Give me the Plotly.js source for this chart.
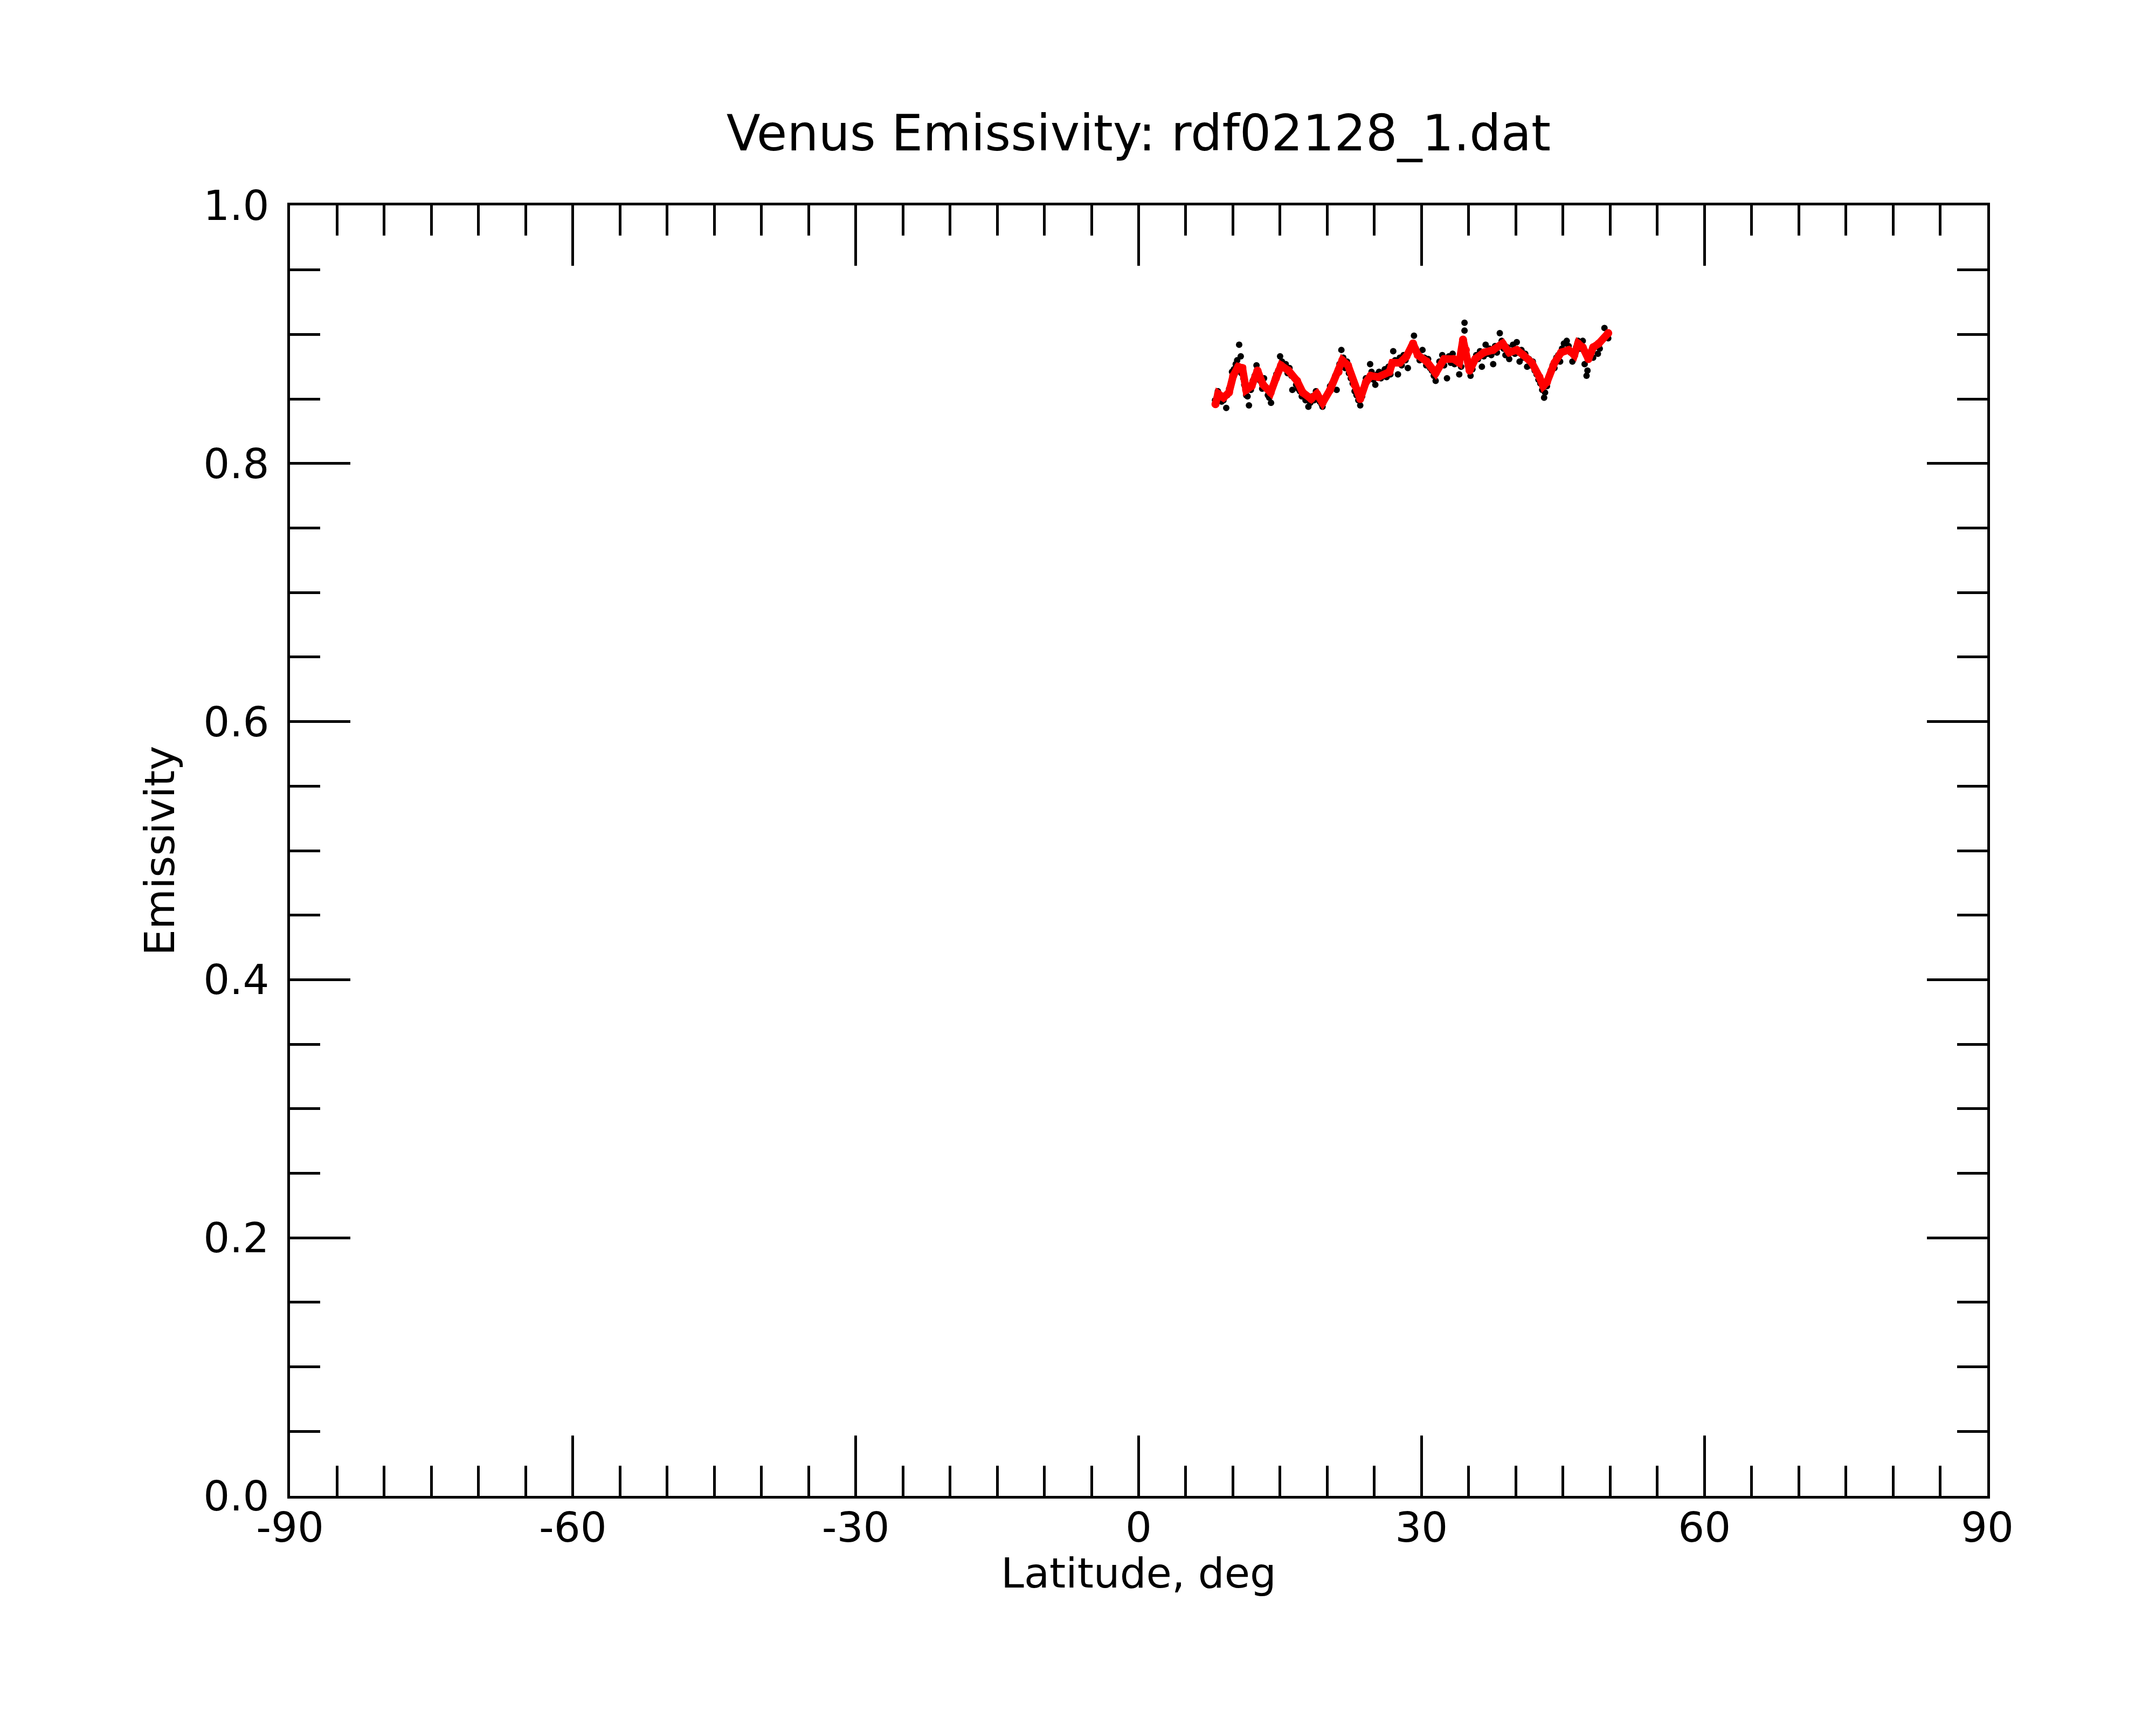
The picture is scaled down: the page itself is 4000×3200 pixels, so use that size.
<!DOCTYPE html>
<html>
<head>
<meta charset="utf-8">
<script src="https://cdn.plot.ly/plotly-3.0.1.min.js"></script>
<style>
  body { margin: 0; background: #fff; }
  #chart { width: 4000px; height: 3200px; }
</style>
</head>
<body>
<div id="chart"></div>
<script>
// raw emissivity samples (black dots)
const rawLat = [
  8.1, 8.3, 8.4, 8.6, 8.8, 9.0, 9.29, 9.4, 9.6, 9.8, 9.9, 10.1, 10.3, 10.45, 10.66, 10.83, 10.9, 11.1,
  11.2, 11.4, 11.55, 11.7, 11.9, 12.1, 12.3, 12.5, 12.7, 12.9, 13.1, 13.3, 13.5, 13.7, 13.85, 14.04, 14.2,
  14.4, 14.6, 14.8, 15.0, 15.2, 15.4, 15.6, 15.8, 16.0, 16.2, 16.3, 16.5, 16.7, 16.9, 17.1, 17.3, 17.5, 17.7, 17.85, 18.0, 18.2,
  18.4, 18.6, 18.8, 19.0, 19.2, 19.4, 19.5, 19.7, 19.9, 20.1, 20.3, 20.5, 20.7, 20.85, 21.0, 21.15, 21.3, 21.5, 21.7,
  21.9, 22.1, 22.3, 22.5, 22.7, 22.9, 23.1, 23.3, 23.5, 23.7, 23.9, 24.1, 24.3, 24.55, 24.7, 24.9, 25.1, 25.3, 25.5, 25.7,
  25.9, 26.1, 26.3, 26.5, 26.7, 27.0, 27.2, 27.5, 27.7, 27.9, 28.1, 28.3, 28.55, 28.7, 28.9, 29.2, 29.4, 29.6, 29.8, 30.1,
  30.3, 30.5, 30.7, 30.9, 31.1, 31.3, 31.5, 31.7, 31.9, 32.2, 32.4, 32.7, 32.9, 33.1, 33.3, 33.5, 33.7, 34.0, 34.2, 34.4, 34.56, 34.56, 34.7,
  34.9, 35.2, 35.4, 35.6, 35.8, 36.0, 36.2, 36.4, 36.6, 36.8, 37.0, 37.2, 37.4, 37.6, 37.8, 38.0, 38.3, 38.5, 38.7, 38.9, 39.1, 39.3, 39.5, 39.7, 39.9, 40.1,
  40.3, 40.4, 40.6, 40.8, 41.0, 41.2, 41.4, 41.6, 41.8, 42.0, 42.2, 42.4, 42.6, 42.8, 43.0, 43.1, 43.3, 43.5, 43.7, 43.9,
  44.1, 44.3, 44.5, 44.7, 44.9, 45.1, 45.4, 45.6, 45.8, 46.0, 46.2, 46.4, 46.6, 46.8, 47.1, 47.3, 47.5, 47.6, 47.8, 48.0, 48.2, 48.4, 48.7, 48.9, 49.1, 49.4, 49.6, 49.8
];
const rawEmis = [
  0.849, 0.852, 0.856, 0.853, 0.848, 0.849, 0.843, 0.853, 0.858, 0.862, 0.871, 0.873, 0.877, 0.880, 0.892, 0.883, 0.870, 0.866,
  0.861, 0.853, 0.852, 0.845, 0.857, 0.864, 0.868, 0.876, 0.869, 0.864, 0.858, 0.866, 0.859, 0.853, 0.851, 0.847, 0.860,
  0.864, 0.869, 0.872, 0.883, 0.879, 0.874, 0.877, 0.870, 0.874, 0.868, 0.857, 0.866, 0.861, 0.858, 0.856, 0.852, 0.853, 0.849, 0.851, 0.844, 0.847,
  0.852, 0.849, 0.856, 0.851, 0.848, 0.846, 0.844, 0.849, 0.852, 0.855, 0.860, 0.862, 0.865, 0.868, 0.857, 0.873, 0.877, 0.888, 0.882,
  0.874, 0.879, 0.870, 0.866, 0.862, 0.856, 0.853, 0.849, 0.845, 0.852, 0.858, 0.866, 0.864, 0.877, 0.871, 0.865, 0.861, 0.869, 0.871, 0.866,
  0.870, 0.873, 0.867, 0.875, 0.869, 0.887, 0.880, 0.869, 0.882, 0.876, 0.884, 0.880, 0.874, 0.887, 0.891, 0.899, 0.889, 0.886, 0.880, 0.888,
  0.882, 0.876, 0.881, 0.874, 0.872, 0.868, 0.864, 0.873, 0.879, 0.884, 0.876, 0.866, 0.883, 0.878, 0.885, 0.877, 0.880, 0.869, 0.875, 0.892, 0.909, 0.903, 0.884,
  0.876, 0.868, 0.873, 0.879, 0.884, 0.881, 0.887, 0.875, 0.883, 0.892, 0.885, 0.889, 0.884, 0.877, 0.891, 0.886, 0.901, 0.895, 0.889, 0.884, 0.890, 0.881, 0.887, 0.892, 0.885, 0.894,
  0.886, 0.879, 0.888, 0.882, 0.885, 0.875, 0.881, 0.876, 0.879, 0.872, 0.869, 0.865, 0.862, 0.857, 0.851, 0.855, 0.860, 0.867, 0.872, 0.876,
  0.874, 0.882, 0.884, 0.879, 0.889, 0.893, 0.895, 0.891, 0.886, 0.879, 0.887, 0.890, 0.895, 0.889, 0.895, 0.877, 0.868, 0.872, 0.884, 0.887, 0.882, 0.891, 0.885, 0.889, 0.895, 0.905, 0.899, 0.897
];

// smoothed emissivity (red)
const smoothLat = [
  8.15, 8.43, 9.0, 9.58, 10.03, 10.55, 11.0, 11.4, 11.98, 12.6, 13.2, 14.0, 14.55, 15.1, 15.9, 16.8, 17.4,
  18.3, 18.9, 19.5, 20.3, 21.2, 21.6, 22.2, 22.9, 23.5, 24.1, 24.6, 25.4, 26.6, 26.9, 27.7, 28.4, 29.1, 29.6,
  30.55, 31.5, 32.4, 33.4, 34.0, 34.4, 34.7, 35.1, 35.7, 36.6, 37.6, 38.6, 39.3, 40.1, 40.8, 41.7, 42.5, 42.9,
  43.3, 44.1, 44.8, 45.6, 46.2, 46.6, 47.1, 47.7, 48.2, 48.8, 49.8
];
const smoothEmis = [
  0.846, 0.854, 0.851, 0.855, 0.868, 0.875, 0.874, 0.857, 0.860, 0.872, 0.861, 0.855, 0.866, 0.876, 0.872, 0.864, 0.855,
  0.850, 0.854, 0.847, 0.857, 0.871, 0.880, 0.876, 0.861, 0.850, 0.863, 0.868, 0.867, 0.871, 0.878, 0.878, 0.883, 0.893, 0.884,
  0.879, 0.870, 0.881, 0.881, 0.878, 0.896, 0.888, 0.872, 0.881, 0.886, 0.888, 0.893, 0.886, 0.888, 0.884, 0.878, 0.867, 0.860,
  0.863, 0.878, 0.886, 0.888, 0.884, 0.893, 0.890, 0.881, 0.890, 0.893, 0.901
];

const xTicks = [-90, -60, -30, 0, 30, 60, 90];
const yTicks = [0.0, 0.2, 0.4, 0.6, 0.8, 1.0];

const data = [
  {
    x: rawLat, y: rawEmis,
    type: 'scatter', mode: 'markers',
    marker: { color: '#000', size: 12 },
    hoverinfo: 'skip'
  },
  {
    x: smoothLat, y: smoothEmis,
    type: 'scatter', mode: 'lines+markers',
    line: { color: '#ff0000', width: 14 },
    marker: { color: '#ff0000', size: 15 },
    hoverinfo: 'skip'
  }
];

const axisCommon = {
  showgrid: false,
  zeroline: false,
  showline: true,
  linecolor: '#000',
  linewidth: 5,
  mirror: 'ticks',
  ticks: 'inside',
  ticklen: 112,
  tickwidth: 5,
  tickcolor: '#000',
  tickfont: { family: 'DejaVu Sans', size: 77, color: '#000' }
};

const layout = {
  width: 4000,
  height: 3200,
  margin: { l: 538, r: 313, t: 381, b: 425 },
  paper_bgcolor: '#fff',
  plot_bgcolor: '#fff',
  showlegend: false,
  font: { family: 'DejaVu Sans', color: '#000' },
  title: {
    text: 'Venus Emissivity: rdf02128_1.dat',
    font: { family: 'DejaVu Sans', size: 92, color: '#000' },
    xref: 'paper', x: 0.5, xanchor: 'center',
    yref: 'container', y: 1 - 247 / 3200, yanchor: 'middle'
  },
  xaxis: Object.assign({}, axisCommon, {
    range: [-90, 90],
    tickmode: 'array',
    tickvals: xTicks,
    ticktext: xTicks.map(String),
    ticklabelstandoff: -12,
    minor: { dtick: 5, tick0: 0, ticks: 'inside', ticklen: 56, tickwidth: 5, tickcolor: '#000', showgrid: false }
  }),
  yaxis: Object.assign({}, axisCommon, {
    range: [0, 1],
    tickmode: 'array',
    tickvals: yTicks,
    ticktext: yTicks.map(v => v.toFixed(1)),
    ticklabelstandoff: 18,
    minor: { dtick: 0.05, tick0: 0, ticks: 'inside', ticklen: 56, tickwidth: 5, tickcolor: '#000', showgrid: false },
    title: { text: 'Emissivity', font: { family: 'DejaVu Sans', size: 77, color: '#000' }, standoff: 30 }
  }),
  annotations: [{
    text: 'Latitude, deg',
    xref: 'paper', yref: 'paper',
    x: 0.5, y: -(2918 - 2775) / 2394,
    xanchor: 'center', yanchor: 'middle',
    showarrow: false,
    font: { family: 'DejaVu Sans', size: 77, color: '#000' }
  }]
};

Plotly.newPlot('chart', data, layout, { displayModeBar: false, staticPlot: true });
</script>
</body>
</html>
